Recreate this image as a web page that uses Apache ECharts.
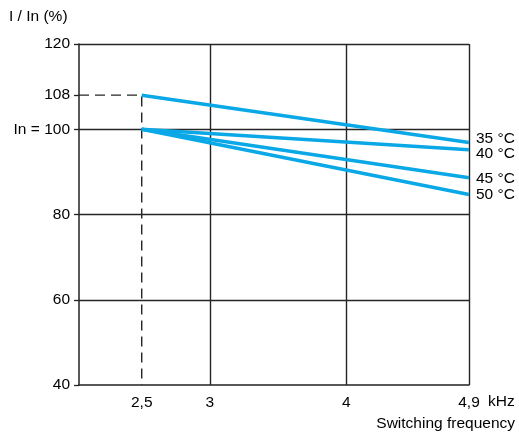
<!DOCTYPE html>
<html><head><meta charset="utf-8">
<script src="https://cdn.jsdelivr.net/npm/echarts@6/dist/echarts.min.js"></script>
<style>html,body{margin:0;padding:0;background:#fff}#c{width:519px;height:434px}</style>
</head><body><div id="c"></div>
<script>
// Data
const freqs = [2.5, 4.9];                 // kHz
const temps = ['35 °C', '40 °C', '45 °C', '50 °C'];
const s35 = [108, 96.9];
const s40 = [100, 95.2];
const s45 = [100, 88.6];
const s50 = [100, 84.7];
const yTicks = [40, 60, 80, 100, 108, 120];
const yGrid = [60, 80, 100, 120];
const xTicks = [2.5, 3, 4, 4.9];
const xGrid = [3, 4, 4.9];
const refFreq = 2.5, refCurrent = 108;
const xMin = 2.04, xMax = 4.9, yMin = 40, yMax = 120;

const FONT = 'Liberation Sans, Arial, sans-serif';
const FS = 15.5;
const BLUE = '#0aa8e6';
const GRIDC = '#262626';

const chart = echarts.init(document.getElementById('c'), null, {renderer: 'canvas'});
const valueSets = [s35, s40, s45, s50];
const labelOffsets = [[2, -4], [2, 4], [2, 1], [2, 0]];

const curveSeries = temps.map((t, i) => ({
  name: t, type: 'line', z: 5,
  data: freqs.map((f, j) => [f, valueSets[i][j]]),
  showSymbol: false, symbol: 'none',
  lineStyle: {color: BLUE, width: 3.5},
  endLabel: {show: true, formatter: '{a}', color: '#000', fontFamily: FONT, fontSize: FS,
             distance: 5, offset: labelOffsets[i]},
  animation: false
}));

const gridSeries = {
  type: 'line', z: 2, data: [], silent: true, animation: false,
  markLine: {
    silent: true, symbol: 'none', animation: false,
    label: {show: false},
    lineStyle: {color: GRIDC, width: 1.4, type: 'solid'},
    data: yGrid.map(v => ({yAxis: v})).concat(xGrid.map(v => ({xAxis: v})))
  }
};

const refSeries = {
  type: 'line', z: 3, silent: true, animation: false, symbol: 'none', showSymbol: false,
  data: [[xMin, refCurrent], [refFreq, refCurrent], [refFreq, yMin]],
  lineStyle: {color: GRIDC, width: 1.4, type: [10, 6]}
};

chart.setOption({
  backgroundColor: '#fff',
  animation: false,
  grid: {left: 79, right: 50, top: 44, bottom: 49, containLabel: false},
  xAxis: {
    type: 'value', min: xMin, max: xMax,
    axisLine: {show: true, lineStyle: {color: '#222', width: 1.5}},
    axisTick: {show: false},
    splitLine: {show: false},
    axisLabel: {customValues: xTicks, color: '#000', fontFamily: FONT, fontSize: FS, margin: 10,
                formatter: v => String(v).replace('.', ',')}
  },
  yAxis: {
    type: 'value', min: yMin, max: yMax,
    axisLine: {show: true, lineStyle: {color: '#222', width: 1.5}},
    axisTick: {show: true, customValues: yTicks, length: 5, lineStyle: {color: '#222', width: 1.3}},
    splitLine: {show: false},
    axisLabel: {customValues: yTicks, color: '#000', fontFamily: FONT, fontSize: FS, margin: 9,
                formatter: v => v === 100 ? 'In = 100' : String(v)}
  },
  graphic: [
    {type: 'text', left: 9, top: 9, style: {text: 'I / In (%)', fill: '#000', font: FS + 'px ' + FONT}},
    {type: 'text', left: 488, top: 394, style: {text: 'kHz', fill: '#000', font: FS + 'px ' + FONT}},
    {type: 'text', right: 4, top: 416, style: {text: 'Switching frequency', fill: '#000', font: FS + 'px ' + FONT}}
  ],
  series: [gridSeries, refSeries].concat(curveSeries)
});
</script></body></html>
